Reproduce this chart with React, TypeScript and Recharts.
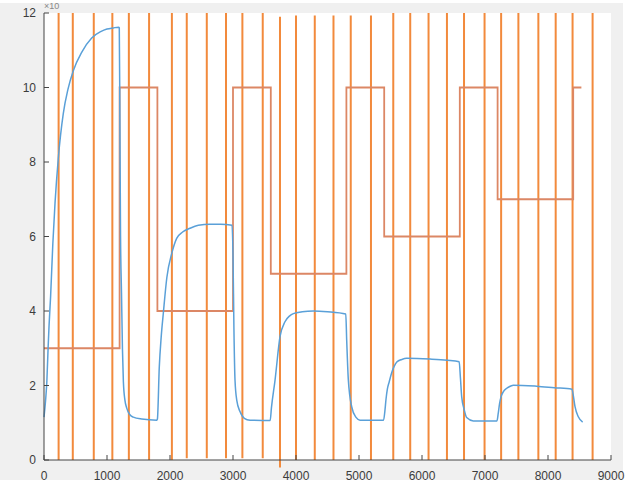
import {ComposedChart, Line, ReferenceLine, XAxis, YAxis} from 'recharts';

// response curve (blue)
const responseX = [
  0, 25, 45, 65, 80, 105, 140, 175, 227, 306, 380, 465, 600, 757, 900, 1000, 1100, 1185,
  1195, 1205, 1215, 1230, 1245, 1260, 1285, 1312, 1360, 1418, 1550, 1790,
  1800, 1830, 1860, 1894, 1950, 2027, 2106, 2200, 2317, 2450, 2635, 2800, 2985,
  3000, 3015, 3032, 3060, 3111, 3180, 3270, 3590,
  3610, 3667, 3746, 3825, 3900, 3958, 4100, 4275, 4500, 4790,
  4805, 4831, 4884, 4950, 5016, 5390,
  5410, 5430, 5450, 5480, 5520, 5560, 5600, 5680, 5757, 6127, 6400, 6590,
  6610, 6630, 6670, 6709, 6815, 7190,
  7210, 7230, 7255, 7290, 7340, 7400, 7450, 7820, 8100, 8380,
  8400, 8429, 8481, 8550,
];
const responseY = [
  1.15, 1.6, 2.1, 3.0, 3.6, 4.4, 5.8, 6.9, 8.1, 9.3, 9.95, 10.45, 10.95, 11.33, 11.5, 11.57, 11.6, 11.62,
  11.6, 9.0, 6.0, 4.5, 3.0, 2.1, 1.6, 1.4, 1.22, 1.15, 1.1, 1.07,
  1.1, 2.5, 3.3, 3.94, 4.9, 5.54, 5.95, 6.12, 6.22, 6.3, 6.33, 6.33, 6.3,
  5.5, 3.5, 2.14, 1.6, 1.3, 1.12, 1.07, 1.06,
  1.4, 2.14, 3.31, 3.71, 3.87, 3.93, 3.98, 4.0, 3.98, 3.92,
  3.2, 2.14, 1.43, 1.15, 1.07, 1.07,
  1.3, 1.65, 1.9, 2.1, 2.35, 2.52, 2.63, 2.7, 2.73, 2.71, 2.68, 2.64,
  2.2, 1.7, 1.35, 1.14, 1.05, 1.05,
  1.25, 1.5, 1.7, 1.83, 1.92, 1.98, 2.01, 1.98, 1.94, 1.9,
  1.75, 1.43, 1.16, 1.02,
];

// setpoint steps
const stepX = [0, 1200, 1800, 3000, 3600, 4800, 5400, 6600, 7200, 8400, 8530];
const stepY = [3, 10, 4, 10, 5, 10, 6, 10, 7, 10, 10];

// vertical marks
const markX = [
  232, 457, 790, 1085, 1347, 1668, 2030, 2266, 2584, 2889, 3149, 3472, 3746, 4000, 4298,
  4595, 4869, 5190, 5544, 5813, 6104, 6396, 6667, 6993, 7256, 7530, 7847, 8122, 8390, 8708,
];
const markLow = [
  0, 0, 0, 0, 0, 0, 0, 0.05, 0.05, 0.05, 0.05, 0.05, -0.2, 0, 0,
  0, 0, 0, 0, 0, 0, 0, 0, 0, 0, 0, 0, 0, 0, 0,
];
const markHigh = [
  12, 12, 12, 12, 12, 12, 12, 12, 12, 12, 12, 12, 11.9, 11.93, 11.93,
  11.93, 11.93, 11.93, 12, 12, 12, 12, 12, 12, 12, 12, 12, 12, 12, 12,
];

const xTicks = [0, 1000, 2000, 3000, 4000, 5000, 6000, 7000, 8000, 9000];
const yTicks = [0, 2, 4, 6, 8, 10, 12];

const responseData = responseX.map((x, i) => ({x, y: responseY[i]}));
const stepData = stepX.map((x, i) => ({x, y: stepY[i]}));

const axisColor = '#444';
const tickFont = {fill: '#3c3c3c', fontSize: 12, fontFamily: '"Liberation Sans", Arial, sans-serif'};

export default function App() {
  return (
    <div style={{position: 'absolute', left: 0, top: 0, width: 627, height: 486, background: '#fff'}}>
      <div style={{position: 'absolute', left: 0, top: 3, width: 623, height: 477, background: '#f0f0f0'}} />
      <div style={{position: 'absolute', left: 44, top: 13, width: 567, height: 447, background: '#fff'}} />
      <div
        style={{
          position: 'absolute',
          left: 44,
          top: 1,
          fontSize: 9,
          lineHeight: '10px',
          color: '#888',
          fontFamily: '"Liberation Sans", Arial, sans-serif',
        }}
      >
        ×10
      </div>
      <ComposedChart
        width={627}
        height={486}
        margin={{top: 13, right: 16, bottom: 0, left: 0}}
        style={{position: 'absolute', left: 0, top: 0}}
      >
        <XAxis
          xAxisId="main"
          dataKey="x"
          type="number"
          domain={[0, 9000]}
          ticks={xTicks}
          height={26}
          tickSize={-5}
          tickMargin={16}
          tick={tickFont}
          stroke={axisColor}
        />
        <XAxis
          xAxisId="top"
          orientation="top"
          type="number"
          domain={[0, 9000]}
          ticks={xTicks}
          height={0}
          tickSize={-5}
          tickFormatter={() => ''}
          stroke={axisColor}
        />
        <YAxis
          yAxisId="main"
          type="number"
          domain={[0, 12]}
          ticks={yTicks}
          width={44}
          tickSize={-5}
          tickMargin={13}
          tick={tickFont}
          stroke={axisColor}
          allowDataOverflow
        />
        <YAxis
          yAxisId="right"
          orientation="right"
          type="number"
          domain={[0, 12]}
          ticks={yTicks}
          width={0}
          tickSize={-5}
          tickFormatter={() => ''}
          stroke={axisColor}
        />
        {markX.map((x, i) => (
          <ReferenceLine
            key={x}
            xAxisId="main"
            yAxisId="main"
            segment={[{x, y: markLow[i]}, {x, y: markHigh[i]}]}
            stroke="#f28a3c"
            strokeWidth={2}
            ifOverflow="visible"
          />
        ))}
        <Line
          xAxisId="main"
          yAxisId="main"
          data={stepData}
          dataKey="y"
          type="stepAfter"
          stroke="#dc8765"
          strokeWidth={1.8}
          dot={false}
          isAnimationActive={false}
        />
        <Line
          xAxisId="main"
          yAxisId="main"
          data={responseData}
          dataKey="y"
          type="monotone"
          stroke="#5aa0d8"
          strokeWidth={1.5}
          dot={false}
          isAnimationActive={false}
        />
      </ComposedChart>
    </div>
  );
}
